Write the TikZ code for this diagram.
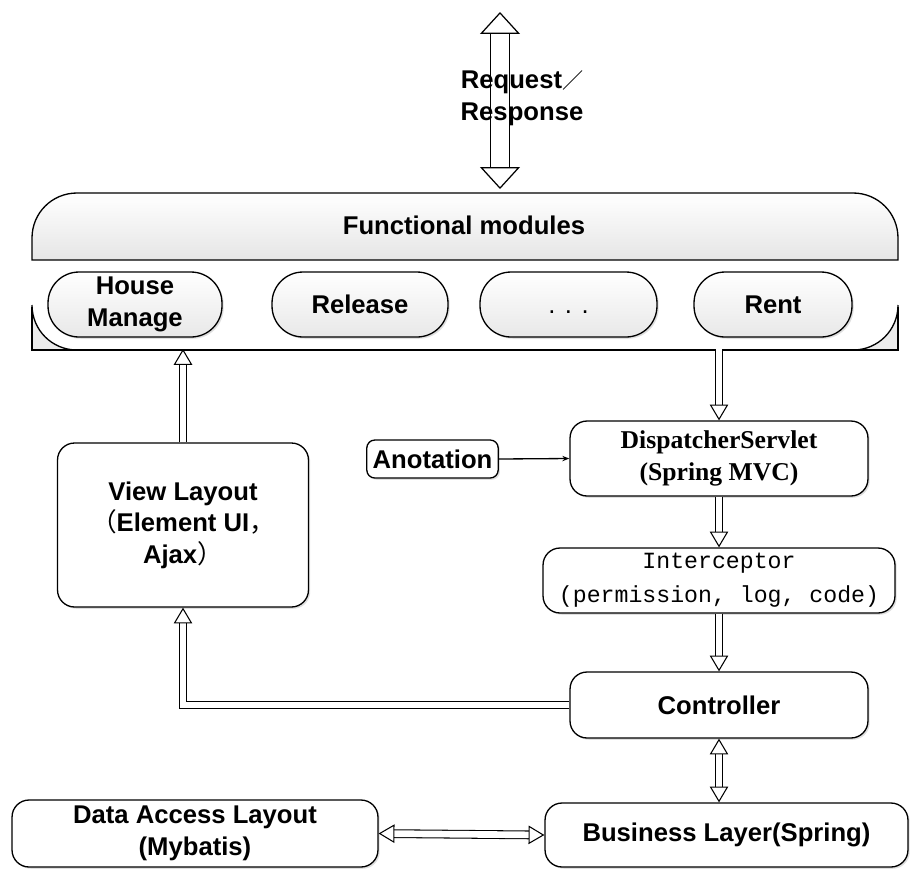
\documentclass[tikz,border=0pt]{standalone}
\usepackage{fontspec}
\setmainfont{Liberation Sans}
\newfontfamily\timesbf{Liberation Serif}
\newfontfamily\simmono{Liberation Mono}
\newfontfamily\cjk{Noto Sans CJK SC}
\usetikzlibrary{arrows.meta,shadows}

\begin{document}
\begin{tikzpicture}
[x=0.02cm, y=-0.02cm, line width=0.75pt,
every node/.style={font=\bfseries\fontsize{14.6}{18}\selectfont, align=center},
shadowed/.style={drop shadow={shadow xshift=1pt, shadow yshift=-1pt, opacity=0.25}},
box/.style={draw, fill=white, rounded corners=0.34cm, shadowed},
pill/.style={draw, rounded corners=0.62cm, top color=white, bottom color=gray!18,
  minimum height=1.3cm, inner sep=1pt, shadowed},
hollow/.style={double, double distance=3.8pt, line width=0.6pt,
  -{Triangle[open, length=9pt, width=10.5pt, line width=0.6pt]}},
bihollow/.style={hollow, {Triangle[open, length=9pt, width=10.5pt, line width=0.6pt]}-{Triangle[open, length=9pt, width=10.5pt, line width=0.6pt]}},
bigarrow/.style={double, double distance=10.5pt, line width=0.7pt,
  {Triangle[open, length=12.5pt, width=22.7pt, line width=0.7pt]}-{Triangle[open, length=12.5pt, width=22.7pt, line width=0.7pt]}}]

\useasboundingbox (0,0) rectangle (913,877);

% functional modules banner
\fill[gray!15] (32,307) rectangle (898,350);
\fill[white] (32,262) -- (32,305) .. controls (32,330) and (52,350) .. (77,350)
  -- (853,350) .. controls (878,350) and (898,330) .. (898,305) -- (898,262) -- cycle;
\draw (32,307) -- (32,350) -- (898,350) -- (898,307);
\draw (32,305) .. controls (32,330) and (52,350) .. (77,350);
\draw (898,305) .. controls (898,330) and (878,350) .. (853,350);
\draw[top color=white, bottom color=gray!20] (32,260) -- (32,238)
  .. controls (32,213) and (52,193) .. (77,193) -- (853,193)
  .. controls (878,193) and (898,213) .. (898,238) -- (898,260) -- cycle;
\node (func) at (464,225) {Functional modules};
\coordinate (fmbot) at (465,349);

\node[pill, minimum width=3.48cm] (house) at (135,304.5) {House\\Manage};
\node[pill, minimum width=3.52cm] (release) at (360,304.5) {Release};
\node[pill, minimum width=3.54cm] (dots) at (568.5,304.5) {\mdseries\vphantom{Rent}. . .};
\node[pill, minimum width=3.16cm] (rent) at (773,304.5) {Rent};

% request / response
\coordinate (reqtop) at (500,12);
\coordinate (reqbot) at (500,189);
\draw[bigarrow] (reqtop) -- (reqbot);
\node (req) at (522,98) {Request{\cjk\mdseries\fontsize{12}{12}\selectfont ／}\\Response};

% boxes
\node[box, minimum width=5.02cm, minimum height=3.28cm] (view) at (183,525)
  {View Layout\\{\cjk\mdseries （}Element UI{\cjk\mdseries ，}\\Ajax{\cjk\mdseries ）}};
\node[box, rounded corners=0.16cm, minimum width=2.54cm, minimum height=0.76cm] (anot) at (432.5,459) {Anotation};
\node[box, minimum width=5.96cm, minimum height=1.5cm,
  font=\timesbf\bfseries\fontsize{14.6}{18}\selectfont] (disp) at (719,458.5) {DispatcherServlet\\(Spring MVC)};
\node[box, minimum width=7.04cm, minimum height=1.3cm, inner sep=1pt,
  font=\simmono\fontsize{13.2}{19.3}\selectfont] (inter) at (719,580.5) {Interceptor\\(permission, log, code)};
\node[box, minimum width=5.96cm, minimum height=1.32cm] (ctrl) at (719,705) {Controller};
\node[box, minimum width=7.26cm, minimum height=1.28cm] (busi) at (726.5,835) {Business Layer(Spring)};
\node[box, minimum width=7.32cm, minimum height=1.34cm] (data) at (195,833.5) {Data Access Layout\\(Mybatis)};

% connectors
\draw[hollow] (view.north) -- (view.north |- fmbot);
\draw[hollow] (disp.north |- fmbot) -- (disp.north);
\draw[-{Stealth[length=4pt, width=3pt]}] (anot.east) -- (disp.west);
\draw[hollow] (disp.south) -- (inter.north);
\draw[hollow] (inter.south) -- (ctrl.north);
\draw[hollow] (ctrl.west) -| (view.south);
\draw[bihollow] (ctrl.south) -- (ctrl.south |- busi.north);
\draw[bihollow] (data.east) -- (busi.west);
\end{tikzpicture}
\end{document}
